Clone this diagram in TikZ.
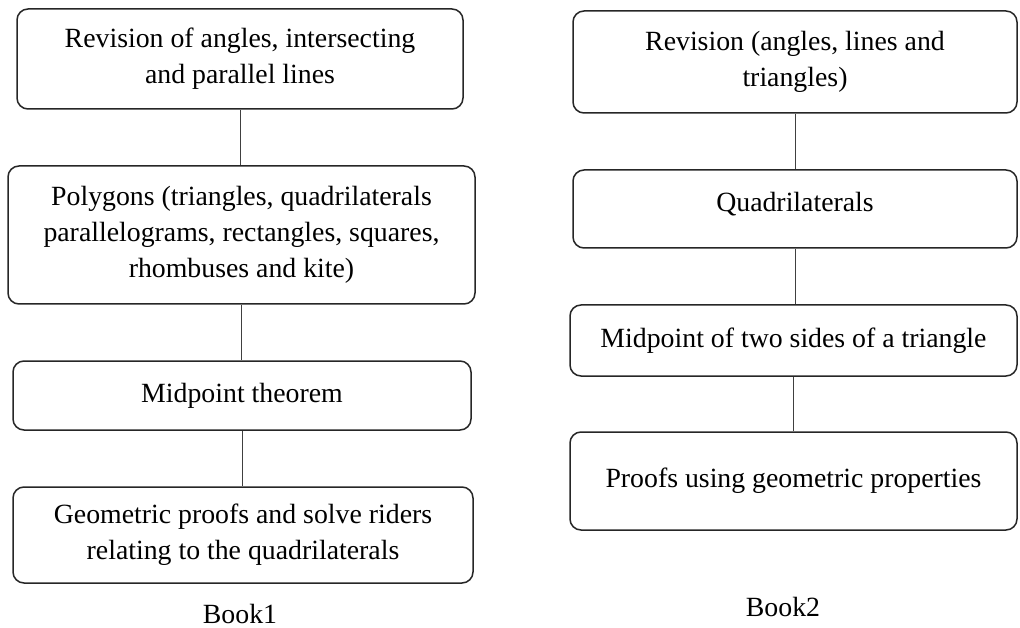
\documentclass[tikz,border=0pt]{standalone}
\usepackage{fontspec}
\setmainfont{Liberation Serif}
\begin{document}
\begin{tikzpicture}[x=1pt,y=-1pt,
  box/.style={draw=black!85, line width=1.5pt, rounded corners=11pt, align=center, inner sep=0pt,
    font=\fontsize{27.8}{36}\selectfont},
  link/.style={draw=black!75, line width=1pt},
  lbl/.style={font=\fontsize{27.8}{36}\selectfont, inner sep=0pt}]
\useasboundingbox (0,0) rectangle (1020,628);
% Book 1
\node[box, minimum width=446pt, minimum height=100pt] (L1) at (240,59) {Revision of angles, intersecting\\and parallel lines};
\node[box, minimum width=467pt, minimum height=138pt] (L2) at (241.5,235) {Polygons (triangles, quadrilaterals\\parallelograms, rectangles, squares,\\rhombuses and kite)};
\node[box, minimum width=458pt, minimum height=69pt] (L3) at (242,395.5) {Midpoint theorem};
\node[box, minimum width=460pt, minimum height=96pt] (L4) at (243,535) {Geometric proofs and solve riders\\relating to the quadrilaterals};
\node[lbl] (B1) at (240,614) {Book1};
\draw[link] (L1.south) -- (L1.south |- L2.north);
\draw[link] (L2.south) -- (L2.south |- L3.north);
\draw[link] (L3.south) -- (L3.south |- L4.north);
% Book 2
\node[box, minimum width=444pt, minimum height=102pt] (R1) at (795,62) {Revision (angles, lines and\\triangles)};
\node[box, minimum width=444pt, minimum height=78pt, text depth=14pt] (R2) at (795,209) {Quadrilaterals};
\node[box, minimum width=447pt, minimum height=71pt] (R3) at (793.5,340.5) {Midpoint of two sides of a triangle};
\node[box, minimum width=447pt, minimum height=98pt] (R4) at (793.5,481) {Proofs using geometric properties};
\node[lbl] (B2) at (783,607) {Book2};
\draw[link] (R1.south) -- (R1.south |- R2.north);
\draw[link] (R2.south) -- (R2.south |- R3.north);
\draw[link] (R3.south) -- (R3.south |- R4.north);
\end{tikzpicture}
\end{document}
